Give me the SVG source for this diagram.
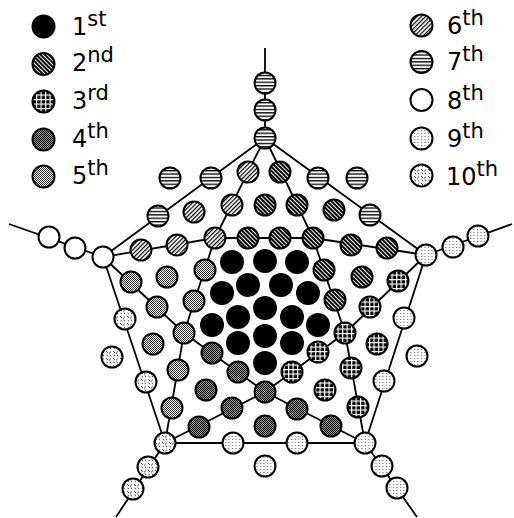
<svg xmlns="http://www.w3.org/2000/svg" width="514" height="518" viewBox="0 0 514 518">
<style>
.n{stroke:#000;stroke-width:2}
.k1{fill:#000;stroke:none}
.k2{fill:url(#p2)}.k3{fill:url(#p3)}.k4{fill:url(#p4)}.k5{fill:url(#p5)}
.k6{fill:url(#p6)}.k7{fill:url(#p7)}.k8{fill:#fff}.k9{fill:url(#p9)}.k10{fill:url(#p10)}
.ln{fill:none;stroke:#000;stroke-width:1.8;stroke-linejoin:round}
.lg{font-family:"DejaVu Sans","Liberation Sans",sans-serif;font-size:24px;fill:#000}
.sp{font-size:21px}
</style>
<defs>
<pattern id="p2" width="3" height="3" patternUnits="userSpaceOnUse" patternTransform="rotate(-45)"><rect width="3" height="3" fill="#000"/><rect width="1" height="3" fill="#fff"/></pattern>
<pattern id="p6" width="3" height="3" patternUnits="userSpaceOnUse" patternTransform="rotate(45)"><rect width="3" height="3" fill="#fff"/><rect width="1.2" height="3" fill="#000"/></pattern>
<pattern id="p3" width="4.5" height="4.5" patternUnits="userSpaceOnUse"><rect width="4.5" height="4.5" fill="#000"/><rect width="1.2" height="4.5" fill="#fff"/><rect width="4.5" height="1.2" fill="#fff"/></pattern>
<pattern id="p4" width="2" height="2" patternUnits="userSpaceOnUse"><rect width="2" height="2" fill="#999"/><rect width="1" height="1" fill="#000"/><rect x="1" y="1" width="1" height="1" fill="#000"/></pattern>
<pattern id="p5" width="2" height="2" patternUnits="userSpaceOnUse"><rect width="2" height="2" fill="#fff"/><rect width="1" height="1" fill="#333"/><rect x="1" y="1" width="1" height="1" fill="#333"/></pattern>
<pattern id="p7" width="4" height="3.4" patternUnits="userSpaceOnUse"><rect width="4" height="3.4" fill="#fff"/><rect width="4" height="1.3" fill="#000"/></pattern>
<pattern id="p9" width="3.5" height="3" patternUnits="userSpaceOnUse"><rect width="3.5" height="3" fill="#fff"/><rect x="1" y="1" width="1" height="1" fill="#555"/></pattern>
<pattern id="p10" width="7" height="7" patternUnits="userSpaceOnUse"><rect width="7" height="7" fill="#fff"/><path d="M1,1 l2,2 M5.5,1.5 l-1,2 M1.5,5 l1.5,1 M5,4.5 l0.8,1.8" stroke="#000" stroke-width="0.7" fill="none"/></pattern>
</defs>

<g id="legend">
<g id="leg1"><circle class="k1" cx="43.5" cy="26.5" r="12"/><text class="lg" x="72" y="34.5">1<tspan class="sp" dy="-9">st</tspan></text></g>
<g id="leg2"><circle class="n k2" cx="43.5" cy="64" r="11"/><text class="lg" x="72" y="71">2<tspan class="sp" dy="-9">nd</tspan></text></g>
<g id="leg3"><circle class="n k3" cx="43.5" cy="101.5" r="11"/><text class="lg" x="72" y="108.5">3<tspan class="sp" dy="-9">rd</tspan></text></g>
<g id="leg4"><circle class="n k4" cx="43.5" cy="139.5" r="11"/><text class="lg" x="72" y="146.5">4<tspan class="sp" dy="-9">th</tspan></text></g>
<g id="leg5"><circle class="n k5" cx="43.5" cy="176.5" r="11"/><text class="lg" x="72" y="183.5">5<tspan class="sp" dy="-9">th</tspan></text></g>
<g id="leg6"><circle class="n k6" cx="421.5" cy="25.5" r="11"/><text class="lg" x="447" y="33.5">6<tspan class="sp" dy="-9">th</tspan></text></g>
<g id="leg7"><circle class="n k7" cx="421.5" cy="62" r="11"/><text class="lg" x="447" y="70">7<tspan class="sp" dy="-9">th</tspan></text></g>
<g id="leg8"><circle class="n k8" cx="421.5" cy="100" r="11"/><text class="lg" x="447" y="108.5">8<tspan class="sp" dy="-9">th</tspan></text></g>
<g id="leg9"><circle class="n k9" cx="421.5" cy="138.5" r="11"/><text class="lg" x="447" y="146.5">9<tspan class="sp" dy="-9">th</tspan></text></g>
<g id="leg10"><circle class="n k10" cx="421.5" cy="175.5" r="11"/><text class="lg" x="446" y="185">10<tspan class="sp" dy="-9">th</tspan></text></g>
</g>

<g id="connectors" class="ln">
<path d="M265,48 L265,138"/>
<path d="M9,224 L103,257"/>
<path d="M512,224 L426,255"/>
<path d="M165,443 L116,517"/>
<path d="M365,443 L417,517"/>
<path d="M265,138 L103,257 L165,443 L365,443 L426,255 Z"/>
<path d="M265,138 L215,238 L184,333 L165,443"/>
<path d="M265,138 L313,238 L345,333 L365,443"/>
<path d="M103,257 L215,238 L313,238 L426,255"/>
<path d="M103,257 L184,333 L265,392 L365,443"/>
<path d="M426,255 L345,333 L265,392 L165,443"/>
</g>

<g id="nodes">
<g id="a1"><circle class="k1" cx="265" cy="308" r="12"/></g>
<g id="a2"><circle class="k1" cx="265" cy="336" r="12"/></g>
<g id="a3"><circle class="k1" cx="265" cy="363" r="12"/></g>
<g id="a4"><circle class="k1" cx="238" cy="317" r="12"/></g>
<g id="a5"><circle class="k1" cx="292" cy="317" r="12"/></g>
<g id="a6"><circle class="k1" cx="212" cy="325" r="12"/></g>
<g id="a7"><circle class="k1" cx="318" cy="325" r="12"/></g>
<g id="a8"><circle class="k1" cx="238" cy="343" r="12"/></g>
<g id="a9"><circle class="k1" cx="292" cy="343" r="12"/></g>
<g id="a10"><circle class="k1" cx="248" cy="285" r="12"/></g>
<g id="a11"><circle class="k1" cx="281" cy="285" r="12"/></g>
<g id="a12"><circle class="k1" cx="222" cy="293" r="12"/></g>
<g id="a13"><circle class="k1" cx="308" cy="293" r="12"/></g>
<g id="a14"><circle class="k1" cx="232" cy="262" r="12"/></g>
<g id="a15"><circle class="k1" cx="265" cy="261" r="12"/></g>
<g id="a16"><circle class="k1" cx="297" cy="262" r="12"/></g>

<g id="b1"><circle class="n k2" cx="280" cy="172" r="10.5"/></g>
<g id="b2"><circle class="n k2" cx="265" cy="205" r="10.5"/></g>
<g id="b3"><circle class="n k2" cx="297" cy="205" r="10.5"/></g>
<g id="b4"><circle class="n k2" cx="334" cy="210" r="10.5"/></g>
<g id="b5"><circle class="n k2" cx="248" cy="238" r="10.5"/></g>
<g id="b6"><circle class="n k2" cx="280" cy="238" r="10.5"/></g>
<g id="b7"><circle class="n k2" cx="313" cy="238" r="10.5"/></g>
<g id="b8"><circle class="n k2" cx="351" cy="245" r="10.5"/></g>
<g id="b9"><circle class="n k2" cx="387" cy="248" r="10.5"/></g>
<g id="b10"><circle class="n k2" cx="324" cy="270" r="10.5"/></g>
<g id="b11"><circle class="n k2" cx="362" cy="277" r="10.5"/></g>
<g id="b12"><circle class="n k2" cx="335" cy="300" r="10.5"/></g>

<g id="c1"><circle class="n k3" cx="398" cy="281" r="10.5"/></g>
<g id="c2"><circle class="n k3" cx="370" cy="307" r="10.5"/></g>
<g id="c3"><circle class="n k3" cx="345" cy="333" r="10.5"/></g>
<g id="c4"><circle class="n k3" cx="377" cy="344" r="10.5"/></g>
<g id="c5"><circle class="n k3" cx="318" cy="352" r="10.5"/></g>
<g id="c6"><circle class="n k3" cx="292" cy="372" r="10.5"/></g>
<g id="c7"><circle class="n k3" cx="351" cy="368" r="10.5"/></g>
<g id="c8"><circle class="n k3" cx="325" cy="390" r="10.5"/></g>
<g id="c9"><circle class="n k3" cx="358" cy="407" r="10.5"/></g>

<g id="d1"><circle class="n k4" cx="265" cy="392" r="10.5"/></g>
<g id="d2"><circle class="n k4" cx="238" cy="372" r="10.5"/></g>
<g id="d3"><circle class="n k4" cx="212" cy="353" r="10.5"/></g>
<g id="d4"><circle class="n k4" cx="206" cy="390" r="10.5"/></g>
<g id="d5"><circle class="n k4" cx="232" cy="408" r="10.5"/></g>
<g id="d6"><circle class="n k4" cx="297" cy="409" r="10.5"/></g>
<g id="d7"><circle class="n k4" cx="265" cy="426" r="10.5"/></g>
<g id="d8"><circle class="n k4" cx="199" cy="427" r="10.5"/></g>
<g id="d9"><circle class="n k4" cx="331" cy="426" r="10.5"/></g>

<g id="e1"><circle class="n k5" cx="131" cy="282" r="10.5"/></g>
<g id="e2"><circle class="n k5" cx="167" cy="277" r="10.5"/></g>
<g id="e3"><circle class="n k5" cx="205" cy="270" r="10.5"/></g>
<g id="e4"><circle class="n k5" cx="157" cy="307" r="10.5"/></g>
<g id="e5"><circle class="n k5" cx="194" cy="301" r="10.5"/></g>
<g id="e6"><circle class="n k5" cx="184" cy="333" r="10.5"/></g>
<g id="e7"><circle class="n k5" cx="153" cy="344" r="10.5"/></g>
<g id="e8"><circle class="n k5" cx="178" cy="370" r="10.5"/></g>
<g id="e9"><circle class="n k5" cx="172" cy="408" r="10.5"/></g>

<g id="f1"><circle class="n k6" cx="248" cy="172" r="10.5"/></g>
<g id="f2"><circle class="n k6" cx="232" cy="205" r="10.5"/></g>
<g id="f3"><circle class="n k6" cx="194" cy="212" r="10.5"/></g>
<g id="f4"><circle class="n k6" cx="215" cy="238" r="10.5"/></g>
<g id="f5"><circle class="n k6" cx="177" cy="245" r="10.5"/></g>
<g id="f6"><circle class="n k6" cx="141" cy="250" r="10.5"/></g>

<g id="g1"><circle class="n k7" cx="265" cy="83" r="10.5"/></g>
<g id="g2"><circle class="n k7" cx="265" cy="110" r="10.5"/></g>
<g id="g3"><circle class="n k7" cx="265" cy="138" r="10.5"/></g>
<g id="g4"><circle class="n k7" cx="170" cy="178" r="10.5"/></g>
<g id="g5"><circle class="n k7" cx="211" cy="178" r="10.5"/></g>
<g id="g6"><circle class="n k7" cx="318" cy="178" r="10.5"/></g>
<g id="g7"><circle class="n k7" cx="357" cy="178" r="10.5"/></g>
<g id="g8"><circle class="n k7" cx="158" cy="216" r="10.5"/></g>
<g id="g9"><circle class="n k7" cx="370" cy="215" r="10.5"/></g>

<g id="h1"><circle class="n k8" cx="49" cy="237" r="10.5"/></g>
<g id="h2"><circle class="n k8" cx="75" cy="248" r="10.5"/></g>
<g id="h3"><circle class="n k8" cx="103" cy="257" r="10.5"/></g>

<g id="i1"><circle class="n k9" cx="426" cy="255" r="10.5"/></g>
<g id="i2"><circle class="n k9" cx="453" cy="247" r="10.5"/></g>
<g id="i3"><circle class="n k9" cx="478" cy="236" r="10.5"/></g>
<g id="i4"><circle class="n k9" cx="404" cy="318" r="10.5"/></g>
<g id="i5"><circle class="n k9" cx="417" cy="356" r="10.5"/></g>
<g id="i6"><circle class="n k9" cx="384" cy="381" r="10.5"/></g>
<g id="i7"><circle class="n k9" cx="365" cy="443" r="10.5"/></g>
<g id="i8"><circle class="n k9" cx="382" cy="466" r="10.5"/></g>
<g id="i9"><circle class="n k9" cx="397" cy="488" r="10.5"/></g>
<g id="i10"><circle class="n k9" cx="297" cy="443" r="10.5"/></g>
<g id="i11"><circle class="n k9" cx="233" cy="443" r="10.5"/></g>
<g id="i12"><circle class="n k9" cx="265" cy="466" r="10.5"/></g>

<g id="j1"><circle class="n k10" cx="125" cy="319" r="10.5"/></g>
<g id="j2"><circle class="n k10" cx="112" cy="357" r="10.5"/></g>
<g id="j3"><circle class="n k10" cx="146" cy="382" r="10.5"/></g>
<g id="j4"><circle class="n k10" cx="165" cy="443" r="10.5"/></g>
<g id="j5"><circle class="n k10" cx="148" cy="467" r="10.5"/></g>
<g id="j6"><circle class="n k10" cx="133" cy="489" r="10.5"/></g>
</g>
</svg>
